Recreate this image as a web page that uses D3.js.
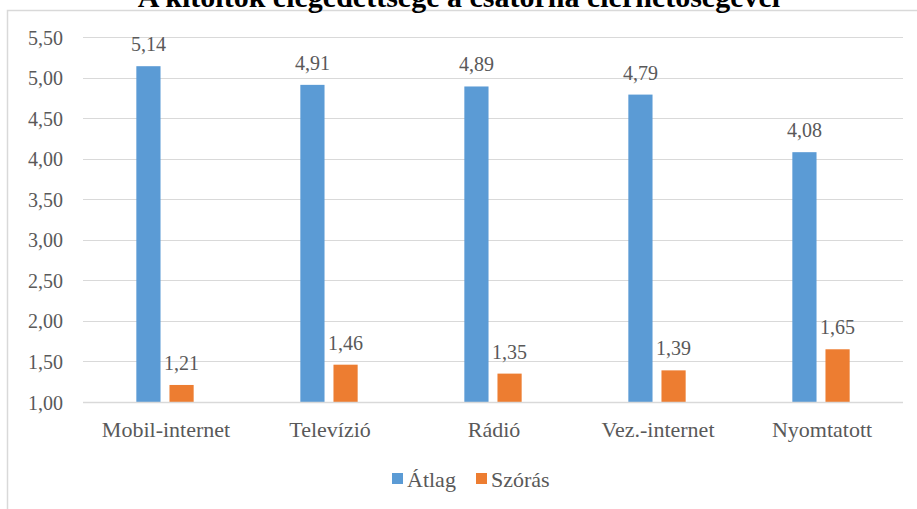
<!DOCTYPE html>
<html>
<head>
<meta charset="utf-8">
<script src="https://cdn.jsdelivr.net/npm/d3@7"></script>
<style>
  html, body { margin: 0; padding: 0; background: #fff; }
  svg { display: block; }
</style>
</head>
<body>
<div id="chart"></div>
<script>
const title = "A kitöltők elégedettsége a csatorna elérhetőségével";
const categories = ["Mobil-internet", "Televízió", "Rádió", "Vez.-internet", "Nyomtatott"];
const seriesNames = ["Átlag", "Szórás"];
const atlag = [5.14, 4.91, 4.89, 4.79, 4.08];
const szoras = [1.21, 1.46, 1.35, 1.39, 1.65];
const yTicks = [1.0, 1.5, 2.0, 2.5, 3.0, 3.5, 4.0, 4.5, 5.0, 5.5];
const colors = ["#5B9BD5", "#ED7D31"];

const FONT = "'Times New Roman', 'Liberation Serif', Tinos, 'DejaVu Serif', serif";
const W = 917, H = 509;
const svg = d3.select("#chart").append("svg").attr("width", W).attr("height", H)
  .attr("font-family", FONT);

svg.append("rect").attr("x", 7.5).attr("y", 10.5).attr("width", W + 10).attr("height", H + 10)
  .attr("fill", "none").attr("stroke", "#d9d9d9").attr("stroke-width", 1.5);

svg.append("text").attr("x", 459).attr("y", 7).attr("text-anchor", "middle")
  .attr("font-family", FONT).attr("font-weight", "bold").attr("font-size", 30).attr("fill", "#000")
  .text(title);

const fmt = v => d3.format(".2f")(v).replace(".", ",");

const x0 = d3.scaleBand().domain(categories).range([83, 903]);
const x1 = d3.scaleBand().domain(seriesNames).range([0, x0.bandwidth()]).paddingInner(0.27).paddingOuter(1.61);
const y = d3.scaleLinear().domain([1, 5.5]).range([402, 37]);

svg.append("g").selectAll("line").data(yTicks.slice(1)).join("line")
  .attr("x1", 83).attr("x2", 903)
  .attr("y1", d => Math.round(y(d)) + 0.5).attr("y2", d => Math.round(y(d)) + 0.5)
  .attr("stroke", "#d9d9d9").attr("stroke-width", 1);

const yAxis = d3.axisLeft(y).tickValues(yTicks).tickFormat(fmt).tickSize(0).tickPadding(0);
const ya = svg.append("g").attr("transform", "translate(63,0)").call(yAxis)
  .attr("font-family", FONT).attr("font-size", 20);
ya.select(".domain").remove();
ya.selectAll("text").attr("fill", "#595959").attr("dy", "0.35em");

const data = categories.map((c, i) => ({ cat: c, vals: [
  { key: seriesNames[0], v: atlag[i], c: colors[0] },
  { key: seriesNames[1], v: szoras[i], c: colors[1] }] }));

const groups = svg.append("g").selectAll("g").data(data).join("g")
  .attr("transform", d => `translate(${x0(d.cat)},0)`);

groups.selectAll("rect").data(d => d.vals).join("rect")
  .attr("x", d => x1(d.key)).attr("width", x1.bandwidth())
  .attr("y", d => y(d.v)).attr("height", d => y(1) - y(d.v))
  .attr("fill", d => d.c);

groups.selectAll("text.val").data(d => d.vals).join("text").attr("class", "val")
  .attr("x", d => x1(d.key) + x1.bandwidth() / 2).attr("y", d => y(d.v) - 15)
  .attr("text-anchor", "middle").attr("font-size", 20).attr("fill", "#595959")
  .attr("font-family", FONT)
  .text(d => fmt(d.v));

svg.append("line").attr("x1", 83).attr("x2", 903).attr("y1", 402.5).attr("y2", 402.5)
  .attr("stroke", "#d9d9d9").attr("stroke-width", 1.5);

const xAxis = d3.axisBottom(x0).tickSize(0).tickPadding(0);
const xa = svg.append("g").attr("transform", "translate(1,437)").call(xAxis)
  .attr("font-family", FONT).attr("font-size", 22);
xa.select(".domain").remove();
xa.selectAll("text").attr("dy", 0).attr("y", 0).attr("fill", "#595959");

const legendItems = [{ name: seriesNames[0], c: colors[0], x: 392 }, { name: seriesNames[1], c: colors[1], x: 476 }];
const lg = svg.append("g").selectAll("g").data(legendItems).join("g")
  .attr("transform", d => `translate(${d.x},0)`);
lg.append("rect").attr("x", 0).attr("y", 473).attr("width", 11).attr("height", 11).attr("fill", d => d.c);
lg.append("text").attr("x", 15).attr("y", 487).attr("font-size", 22).attr("fill", "#595959")
  .attr("font-family", FONT).text(d => d.name);
</script>
</body>
</html>
